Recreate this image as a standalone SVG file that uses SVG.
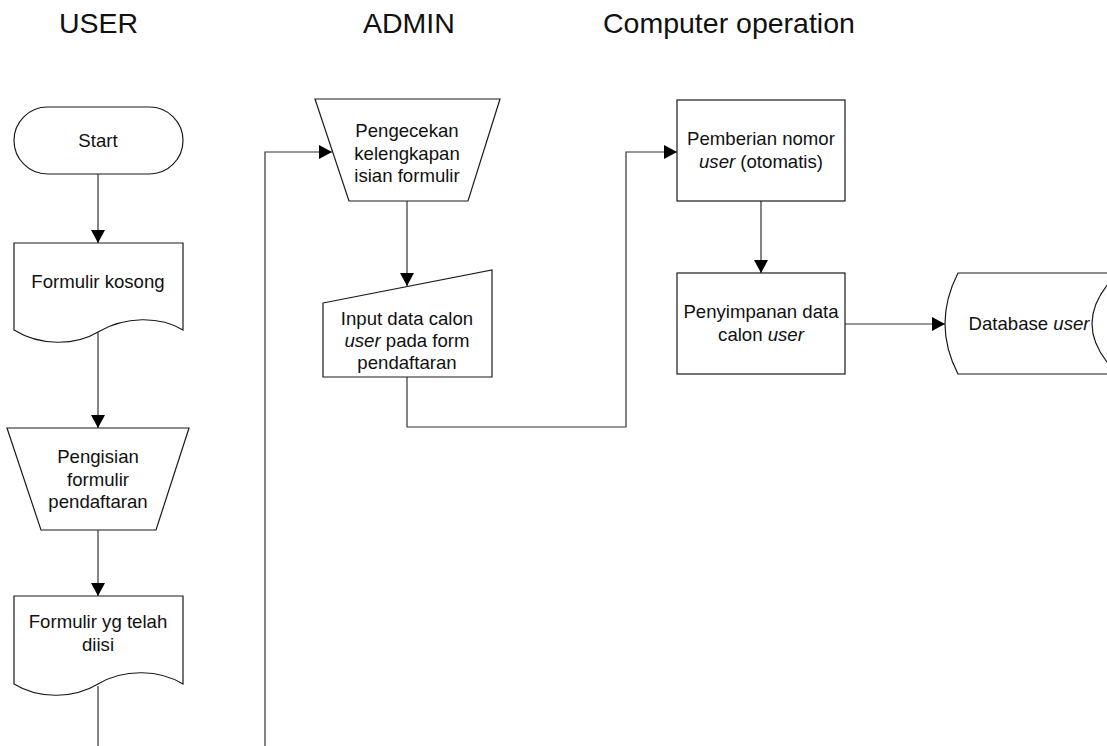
<svg xmlns="http://www.w3.org/2000/svg" width="1107" height="746" viewBox="0 0 1107 746">
<style>
.bg{fill:#ffffff}
.shape{fill:#ffffff;stroke:#1a1a1a;stroke-width:1.2}
.conn{fill:none;stroke:#333333;stroke-width:1.2}
.t{font-family:"Liberation Sans",Arial,Helvetica,sans-serif;font-size:18.6px;fill:#111111;text-anchor:middle}
.h{font-family:"Liberation Sans",Arial,Helvetica,sans-serif;font-size:28.5px;fill:#111111}
.i{font-style:italic}
</style>
<defs>
<marker id="arr" markerUnits="userSpaceOnUse" markerWidth="14" markerHeight="14" refX="13" refY="7" orient="auto">
<path d="M0,0 L13,7 L0,14 Z" fill="#000000"/>
</marker>
</defs>
<rect class="bg" x="0" y="0" width="1107" height="746"/>

<g id="headers">
<text class="h" x="59" y="33">USER</text>
<text class="h" x="363" y="33">ADMIN</text>
<text class="h" x="603" y="33">Computer operation</text>
</g>

<g id="connectors">
<path class="conn" d="M98,174 V243" marker-end="url(#arr)"/>
<path class="conn" d="M98,332 V428" marker-end="url(#arr)"/>
<path class="conn" d="M98,530 V596" marker-end="url(#arr)"/>
<path class="conn" d="M98,686 V746"/>
<path class="conn" d="M265,746 V152 H332" marker-end="url(#arr)"/>
<path class="conn" d="M407,201 V286" marker-end="url(#arr)"/>
<path class="conn" d="M407,377 V427 H626 V152 H677" marker-end="url(#arr)"/>
<path class="conn" d="M761,201 V273" marker-end="url(#arr)"/>
<path class="conn" d="M845,324 H945" marker-end="url(#arr)"/>
</g>

<g id="start">
<rect class="shape" x="14" y="107" width="169" height="67" rx="33.5" ry="33.5"/>
<text class="t" x="98" y="147">Start</text>
</g>

<g id="formulir-kosong">
<path class="shape" d="M14,243 H183 V330 C160,316 125,316 98,332 C75,346 40,346 14,330 Z"/>
<text class="t" x="98" y="288">Formulir kosong</text>
</g>

<g id="pengisian">
<path class="shape" d="M7,428 H189 L156,530 H41 Z"/>
<text class="t" x="98" y="463">Pengisian</text>
<text class="t" x="98" y="486">formulir</text>
<text class="t" x="98" y="508">pendaftaran</text>
</g>

<g id="formulir-diisi">
<path class="shape" d="M14,596 H183 V684 C160,670 125,668 98,684 C75,698 40,700 14,684 Z"/>
<text class="t" x="98" y="628">Formulir yg telah</text>
<text class="t" x="98" y="651">diisi</text>
</g>

<g id="pengecekan">
<path class="shape" d="M315,99 H500 L468,201 H349 Z"/>
<text class="t" x="407" y="137">Pengecekan</text>
<text class="t" x="407" y="160">kelengkapan</text>
<text class="t" x="407" y="182">isian formulir</text>
</g>

<g id="input-data">
<path class="shape" d="M323,303 L492,270 V377 H323 Z"/>
<text class="t" x="407" y="325">Input data calon</text>
<text class="t" x="407" y="347"><tspan class="i">user</tspan> pada form</text>
<text class="t" x="407" y="369">pendaftaran</text>
</g>

<g id="pemberian">
<rect class="shape" x="677" y="100" width="168" height="101"/>
<text class="t" x="761" y="145">Pemberian nomor</text>
<text class="t" x="761" y="168"><tspan class="i">user</tspan> (otomatis)</text>
</g>

<g id="penyimpanan">
<rect class="shape" x="677" y="273" width="168" height="101"/>
<text class="t" x="761" y="318">Penyimpanan data</text>
<text class="t" x="761" y="341">calon <tspan class="i">user</tspan></text>
</g>

<g id="database">
<path class="shape" d="M958,273 H1118 Q1066,324 1118,374 H958 Q932,324 958,273 Z"/>
<text class="t" x="1029" y="330">Database <tspan class="i">user</tspan></text>
</g>
</svg>
